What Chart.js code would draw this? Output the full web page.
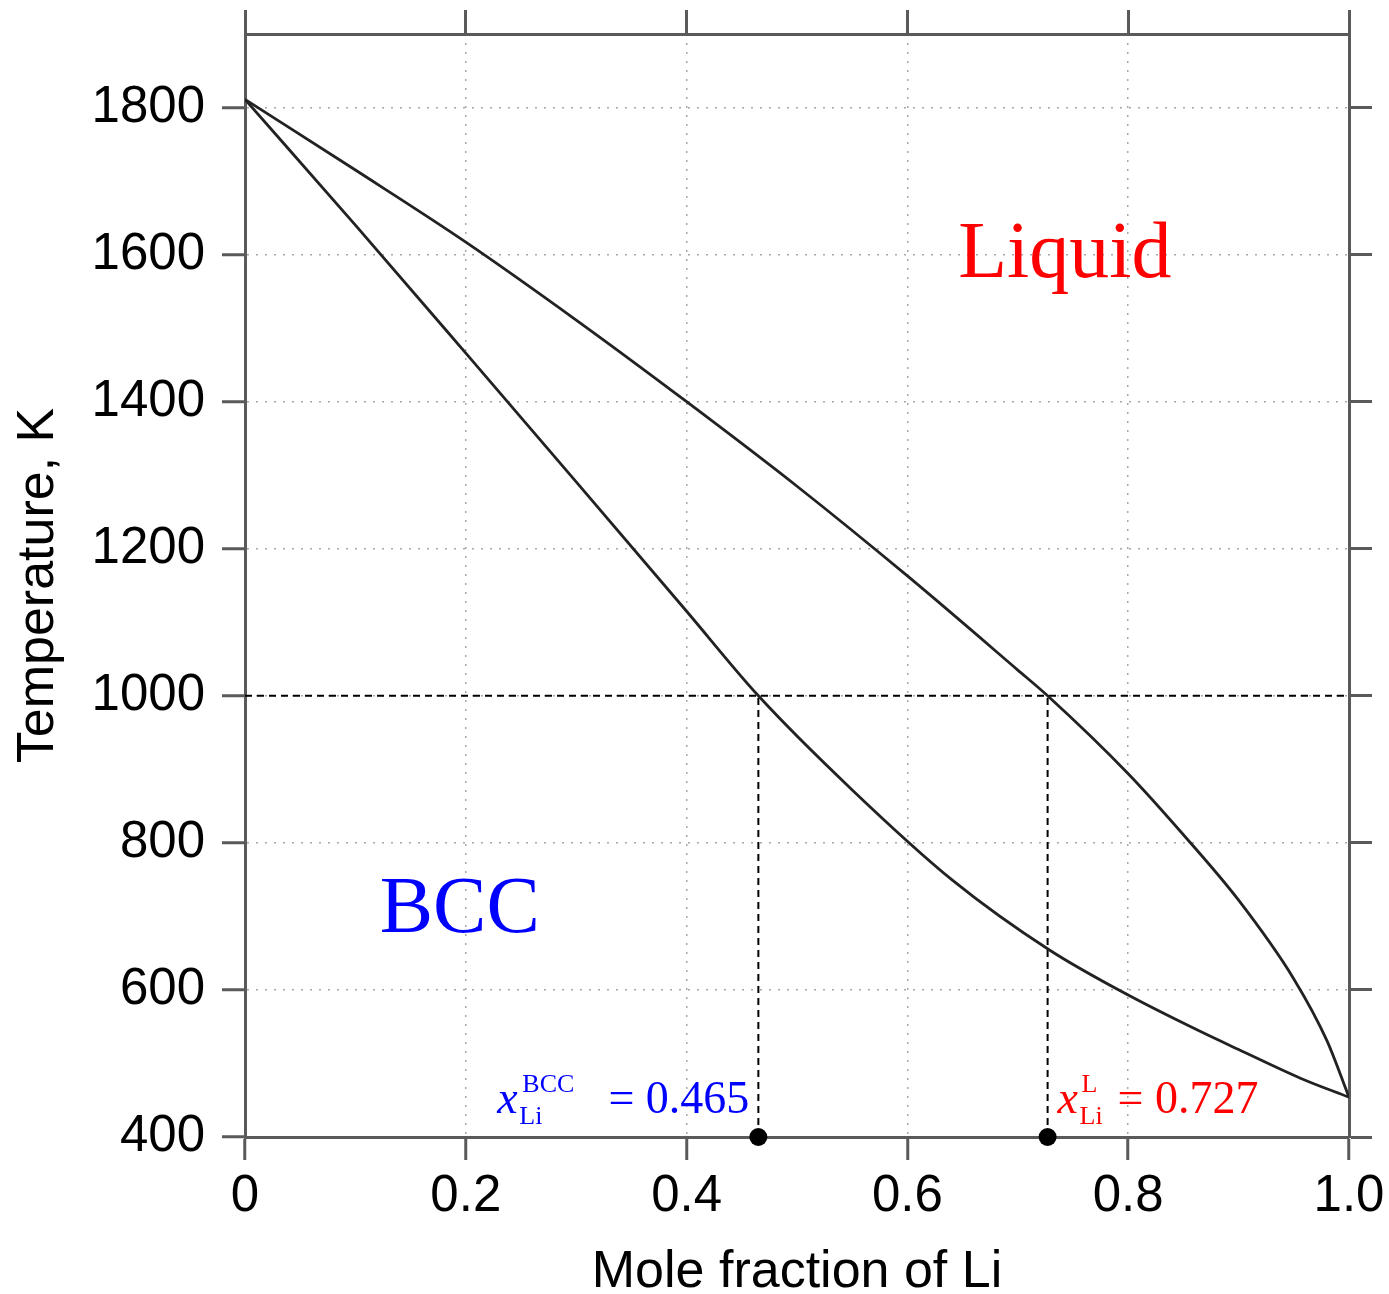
<!DOCTYPE html>
<html>
<head>
<meta charset="utf-8">
<script src="https://cdn.jsdelivr.net/npm/chart.js@4"></script>
<style>
  body { margin: 0; background: #fff; }
  canvas { display: block; }
</style>
</head>
<body>
<canvas id="phase" width="1389" height="1294"></canvas>
<script>
// liquidus (upper curve)
const liquidusX = [0, 0.1, 0.2, 0.3, 0.4, 0.5, 0.6, 0.7, 0.727, 0.8, 0.85, 0.9, 0.95, 0.98, 1.0];
const liquidusT = [1811, 1715, 1617, 1511, 1400, 1285, 1163, 1035, 1000, 894, 811, 722, 615, 531, 454];

// solidus (lower curve)
const solidusX = [0, 0.1, 0.2, 0.3, 0.4, 0.465, 0.55, 0.641, 0.729, 0.8, 0.866, 0.9, 0.956, 1.0];
const solidusT = [1811, 1640, 1466, 1291, 1115, 1000, 872, 749, 654, 593, 543, 519, 480, 454];

// tie line at 1000 K and the two compositions
const tieT = 1000;
const xBCC = 0.465;
const xL = 0.727;

const xTickLabels = ["0", "0.2", "0.4", "0.6", "0.8", "1.0"];

const AXIS_COLOR = "#5a5a5a";
const GRID_COLOR = "#a8a8a8";
const SANS = "'Liberation Sans', Arial, Helvetica, sans-serif";
const SERIF = "'Liberation Serif', 'Times New Roman', serif";

function toPoints(xs, ys) {
    return xs.map((x, i) => ({ x: x, y: ys[i] }));
}

// keep the plot box where the picture has it
function noPad(scale) {
    scale.paddingTop = 0;
    scale.paddingBottom = 0;
    scale.paddingLeft = 0;
    scale.paddingRight = 0;
}

// phase labels and the two composition labels
const labelPlugin = {
    id: "phaseLabels",
    afterDatasetsDraw(chart) {
        const ctx = chart.ctx;
        const xs = chart.scales.x;
        const ys = chart.scales.y;
        ctx.save();
        ctx.textBaseline = "alphabetic";
        ctx.textAlign = "left";

        ctx.fillStyle = "#ff0000";
        ctx.font = "80px " + SERIF;
        ctx.fillText("Liquid", xs.getPixelForValue(0.646), ys.getPixelForValue(1569));

        ctx.fillStyle = "#0000ff";
        ctx.fillText("BCC", xs.getPixelForValue(0.122), ys.getPixelForValue(679));

        const base = ys.getPixelForValue(400) - 24;

        // x_Li^BCC = 0.465 (right aligned to the dashed line)
        let right = xs.getPixelForValue(xBCC) - 9;
        ctx.fillStyle = "#0000ff";
        ctx.font = "46px " + SERIF;
        ctx.textAlign = "right";
        ctx.fillText("= 0.465", right, base);
        ctx.textAlign = "left";
        let x0 = right - 252;
        ctx.font = "italic 46px " + SERIF;
        ctx.fillText("x", x0, base);
        ctx.font = "26px " + SERIF;
        ctx.fillText("BCC", x0 + 25, base - 21);
        ctx.fillText("Li", x0 + 22, base + 11);

        // x_Li^L = 0.727
        x0 = xs.getPixelForValue(xL) + 10;
        ctx.fillStyle = "#ff0000";
        ctx.font = "italic 46px " + SERIF;
        ctx.fillText("x", x0, base);
        ctx.font = "26px " + SERIF;
        ctx.fillText("L", x0 + 24, base - 21);
        ctx.fillText("Li", x0 + 22, base + 11);
        ctx.font = "46px " + SERIF;
        ctx.fillText("= 0.727", x0 + 60, base);

        ctx.restore();
    },
};

const dashed = { showLine: true, borderColor: "#000", borderWidth: 2, borderDash: [7, 5], pointRadius: 0 };

new Chart("phase", {
    type: "scatter",
    data: {
        datasets: [
            {
                label: "liquidus",
                data: toPoints(liquidusX, liquidusT),
                showLine: true,
                borderColor: "#222",
                borderWidth: 2.8,
                pointRadius: 0,
                cubicInterpolationMode: "monotone",
            },
            {
                label: "solidus",
                data: toPoints(solidusX, solidusT),
                showLine: true,
                borderColor: "#222",
                borderWidth: 2.8,
                pointRadius: 0,
                cubicInterpolationMode: "monotone",
            },
            Object.assign({ label: "tie", data: [{ x: 0, y: tieT }, { x: 1, y: tieT }] }, dashed),
            Object.assign({ label: "bcc drop", data: [{ x: xBCC, y: 400 }, { x: xBCC, y: tieT }] }, dashed),
            Object.assign({ label: "liquid drop", data: [{ x: xL, y: 400 }, { x: xL, y: tieT }] }, dashed),
            {
                label: "compositions",
                data: [{ x: xBCC, y: 400 }, { x: xL, y: 400 }],
                pointRadius: 9,
                pointBackgroundColor: "#000",
                pointBorderWidth: 0,
                clip: false,
            },
        ],
    },
    options: {
        responsive: false,
        animation: false,
        layout: { padding: 0 },
        plugins: {
            legend: { display: false },
            tooltip: { enabled: false },
        },
        scales: {
            x: {
                type: "linear",
                position: "bottom",
                min: 0,
                max: 1,
                afterFit(scale) { scale.height = 157; noPad(scale); },
                ticks: {
                    stepSize: 0.2,
                    padding: 6,
                    color: "#000",
                    font: { family: SANS, size: 51 },
                    callback: (v, i) => xTickLabels[i],
                },
                grid: {
                    color: GRID_COLOR,
                    lineWidth: 1.5,
                    tickLength: 23,
                    tickColor: AXIS_COLOR,
                    tickWidth: 3,
                    tickBorderDash: [],
                },
                border: { color: AXIS_COLOR, width: 3, dash: [2, 7] },
                title: {
                    display: true,
                    text: "Mole fraction of Li",
                    color: "#000",
                    font: { family: SANS, size: 52, lineHeight: 1 },
                    padding: { top: 0, bottom: -5 },
                },
            },
            xTop: {
                type: "linear",
                position: "top",
                min: 0,
                max: 1,
                afterFit(scale) { scale.height = 34; noPad(scale); },
                ticks: { stepSize: 0.2, display: false },
                grid: {
                    drawOnChartArea: false,
                    tickLength: 24,
                    tickColor: AXIS_COLOR,
                    tickWidth: 3,
                },
                border: { color: AXIS_COLOR, width: 3 },
            },
            y: {
                type: "linear",
                position: "left",
                min: 400,
                max: 1900,
                afterFit(scale) { scale.width = 245; noPad(scale); },
                ticks: {
                    stepSize: 200,
                    includeBounds: false,
                    padding: 17,
                    color: "#000",
                    font: { family: SANS, size: 51 },
                    callback: (v) => String(v),
                },
                grid: {
                    color: GRID_COLOR,
                    lineWidth: 1.5,
                    tickLength: 23,
                    tickColor: AXIS_COLOR,
                    tickWidth: 3,
                    tickBorderDash: [],
                },
                border: { color: AXIS_COLOR, width: 3, dash: [2, 7] },
                title: {
                    display: true,
                    text: "Temperature, K",
                    color: "#000",
                    font: { family: SANS, size: 52, lineHeight: 1 },
                    padding: { top: 13, bottom: 0 },
                },
            },
            yRight: {
                type: "linear",
                position: "right",
                min: 400,
                max: 1900,
                afterFit(scale) { scale.width = 40; noPad(scale); },
                ticks: { stepSize: 200, includeBounds: false, display: false },
                grid: {
                    drawOnChartArea: false,
                    tickLength: 23,
                    tickColor: AXIS_COLOR,
                    tickWidth: 3,
                },
                border: { color: AXIS_COLOR, width: 3 },
            },
        },
    },
    plugins: [labelPlugin],
});
</script>
</body>
</html>
